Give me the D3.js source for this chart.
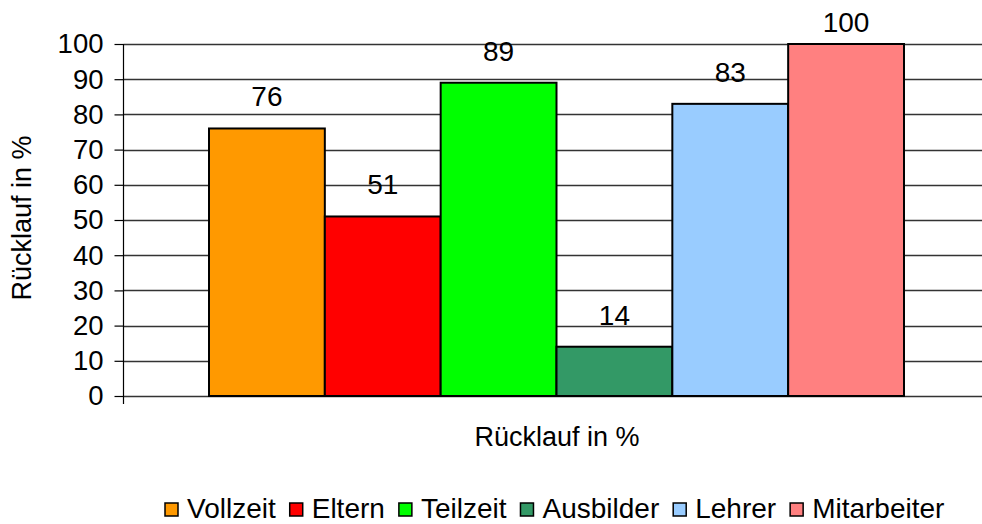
<!DOCTYPE html>
<html><head><meta charset="utf-8">
<script src="https://cdn.jsdelivr.net/npm/d3@7"></script>
<style>
html,body{margin:0;padding:0;background:#fff;}
text{font-family:"Liberation Sans",Arial,sans-serif;fill:#000;}
</style></head>
<body>
<svg id="c" width="982" height="524"></svg>
<script>
const categories = ["Vollzeit","Eltern","Teilzeit","Ausbilder","Lehrer","Mitarbeiter"];
const values = [76,51,89,14,83,100];
const colors = ["#FF9900","#FF0000","#00FF00","#339966","#99CCFF","#FF8080"];
const yTicks = [0,10,20,30,40,50,60,70,80,90,100];
const axisTitle = "Rücklauf in %";

const svg = d3.select("#c");
const plotL = 123.5, plotR = 982, plotT = 44, plotB = 396;
const y = d3.scaleLinear().domain([0,100]).range([plotB, plotT]);
const x = d3.scaleBand().domain(categories).range([209, 904]).padding(0);

// gridlines
svg.append("g").selectAll("line").data(yTicks).join("line")
  .attr("x1", plotL).attr("x2", plotR)
  .attr("y1", d=>Math.round(y(d))+0.5).attr("y2", d=>Math.round(y(d))+0.5)
  .attr("stroke", "#333").attr("stroke-width", 1.3);

// y axis
const yAxis = d3.axisLeft(y).tickValues(yTicks).tickSize(9).tickPadding(11);
const ga = svg.append("g").attr("transform", `translate(${plotL},0)`).call(yAxis);
ga.select(".domain").remove();
ga.selectAll(".tick line").attr("stroke","#000").attr("stroke-width",1.2);
ga.selectAll(".tick text").attr("font-size", 27.5).attr("font-family", "Liberation Sans, Arial, sans-serif").attr("fill","#000");
svg.append("line").attr("x1", plotL).attr("x2", plotL).attr("y1", plotT).attr("y2", plotB + 8)
  .attr("stroke","#000").attr("stroke-width",1.2);

// bars
svg.append("g").selectAll("rect").data(categories).join("rect")
  .attr("x", d=>x(d)).attr("width", x.bandwidth())
  .attr("y", (d,i)=>y(values[i])).attr("height", (d,i)=>y(0)-y(values[i]))
  .attr("fill", (d,i)=>colors[i]).attr("stroke","#000").attr("stroke-width",2);

// value labels
svg.append("g").selectAll("text").data(categories).join("text")
  .attr("x", d=>x(d)+x.bandwidth()/2)
  .attr("y", (d,i)=>Math.max(y(values[i]) - 22, 32))
  .attr("text-anchor","middle").attr("font-size",28)
  .text((d,i)=>values[i]);

// axis titles
svg.append("text").attr("x", 557).attr("y", 446).attr("text-anchor","middle").attr("font-size",27).text(axisTitle);
svg.append("text").attr("transform","translate(31,218) rotate(-90)").attr("text-anchor","middle").attr("font-size",27).text(axisTitle);

// legend
const lg = svg.append("g");
let lx = 165;
categories.forEach((c,i)=>{
  lg.append("rect").attr("x", lx).attr("y", 503).attr("width", 13).attr("height", 13)
    .attr("fill", colors[i]).attr("stroke","#000").attr("stroke-width",1.5);
  const t = lg.append("text").attr("x", lx + 22).attr("y", 518).attr("font-size", 28).text(c);
  lx += 22 + t.node().getComputedTextLength() + 14;
});
</script>
</body></html>
